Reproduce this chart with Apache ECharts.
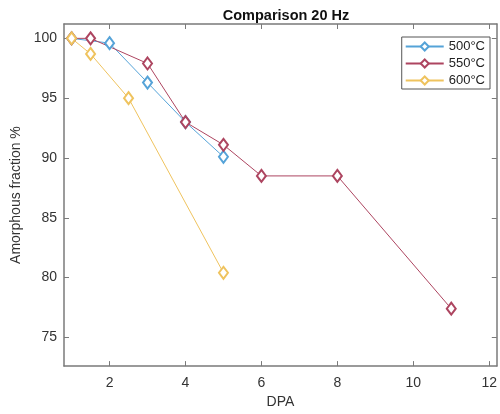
<!DOCTYPE html>
<html>
<head>
<meta charset="utf-8">
<script src="https://cdn.jsdelivr.net/npm/echarts@6/dist/echarts.min.js"></script>
<style>
  html, body { margin: 0; padding: 0; background: #fff; }
  #main { width: 500px; height: 414px; }
</style>
</head>
<body>
<div id="main"></div>
<script>
var xTicks = [2, 4, 6, 8, 10, 12];
var yTicks = [75, 80, 85, 90, 95, 100];

var dpa500 = [1, 2, 3, 4, 5];
var val500 = [100, 99.6, 96.3, 93.0, 90.1];

var dpa550 = [1, 1.5, 3, 4, 5, 6, 8, 11];
var val550 = [100, 100, 97.9, 93.0, 91.1, 88.5, 88.5, 77.4];

var dpa600 = [1, 1.5, 2.5, 5];
var val600 = [100, 98.7, 95.0, 80.4];

var names = ['500°C', '550°C', '600°C'];
var myColor = ['#55a3d8', '#ad4560', '#efc35e'];

function pairs(xs, ys) {
  return xs.map(function (x, i) { return [x, ys[i]]; });
}

var myChart = echarts.init(document.getElementById('main'));

var axisGray = '#7a7a7a';
var font = 'Liberation Sans, Arial, sans-serif';
var labelStyle = { color: '#333', fontSize: 14, fontFamily: font };

function lineSeries(name, data, color) {
  return {
    name: name,
    type: 'line',
    data: data,
    symbol: 'emptyDiamond',
    symbolSize: [9, 12],
    lineStyle: { color: color, width: 1 },
    itemStyle: { color: color, borderWidth: 1 },
    emphasis: { disabled: true }
  };
}

var option = {
  animation: false,
  color: myColor,
  title: {
    text: 'Comparison 20 Hz',
    left: 281,
    textAlign: 'center',
    top: 3,
    textStyle: { color: '#111', fontSize: 14.5, fontWeight: 'bold', fontFamily: font }
  },
  legend: {
    right: 10,
    top: 37,
    orient: 'vertical',
    itemWidth: 38,
    itemHeight: 10,
    itemGap: 4,
    padding: [3, 5, 2, 3],
    borderColor: '#555',
    borderWidth: 1,
    backgroundColor: '#fff',
    textStyle: { color: '#222', fontSize: 13, fontFamily: font },
    data: names
  },
  grid: { left: 64, right: 3, top: 24, bottom: 46 },
  xAxis: [{
    type: 'value',
    min: 0.8,
    max: 12.2,
    name: 'DPA',
    nameLocation: 'middle',
    nameGap: 26,
    nameTextStyle: { color: '#333', fontSize: 14, fontFamily: font },
    axisLine: { lineStyle: { color: axisGray, width: 1.5 } },
    axisTick: { inside: true, length: 5, customValues: xTicks, lineStyle: { color: axisGray } },
    axisLabel: Object.assign({ customValues: xTicks, margin: 10 }, labelStyle),
    splitLine: { show: false }
  }, {
    type: 'value',
    position: 'top',
    min: 0.8,
    max: 12.2,
    axisLine: { show: true, onZero: false, lineStyle: { color: axisGray, width: 1.5 } },
    axisTick: { inside: true, length: 5, customValues: xTicks, lineStyle: { color: axisGray } },
    axisLabel: { show: false },
    splitLine: { show: false }
  }],
  yAxis: [{
    type: 'value',
    min: 72.6,
    max: 101.2,
    name: 'Amorphous fraction %',
    nameLocation: 'middle',
    nameGap: 30,
    nameTextStyle: { color: '#333', fontSize: 14, fontFamily: font },
    axisLine: { show: true, lineStyle: { color: axisGray, width: 1.5 } },
    axisTick: { show: true, inside: true, length: 5, customValues: yTicks, lineStyle: { color: axisGray } },
    axisLabel: Object.assign({ customValues: yTicks, margin: 7 }, labelStyle),
    splitLine: { show: false }
  }, {
    type: 'value',
    position: 'right',
    min: 72.6,
    max: 101.2,
    axisLine: { show: true, onZero: false, lineStyle: { color: axisGray, width: 1.5 } },
    axisTick: { show: true, inside: true, length: 5, customValues: yTicks, lineStyle: { color: axisGray } },
    axisLabel: { show: false },
    splitLine: { show: false }
  }],
  series: [
    lineSeries(names[0], pairs(dpa500, val500), myColor[0]),
    lineSeries(names[1], pairs(dpa550, val550), myColor[1]),
    lineSeries(names[2], pairs(dpa600, val600), myColor[2])
  ]
};
myChart.setOption(option);
</script>
</body>
</html>
